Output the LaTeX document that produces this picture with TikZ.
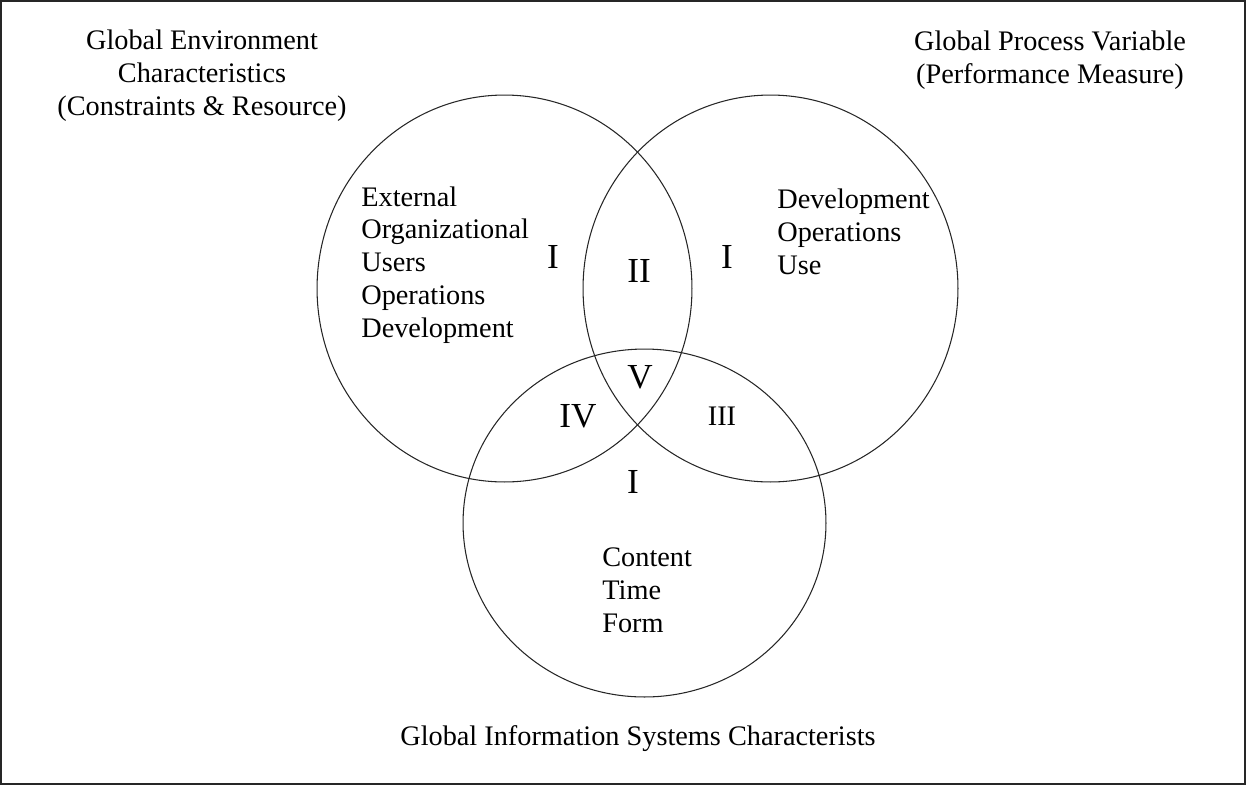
\documentclass[tikz,border=0pt]{standalone}
\usepackage{fontspec}
\setmainfont{Liberation Serif}
\usepackage{tikz}
\tikzset{
    setline/.style={draw=black!85, line width=0.6pt},
    frame/.style={draw=black!85, line width=0.9pt},
    caption/.style={font=\fontsize{16.1}{18.6}\selectfont, inner sep=0pt, align=center, anchor=base},
    itemlist/.style={font=\fontsize{16.1}{18.6}\selectfont, inner sep=0pt, align=left, anchor=base west},
    region/.style={font=\fontsize{20}{24}\selectfont, inner sep=0pt, anchor=base},
    smallregion/.style={font=\fontsize{16.1}{18.6}\selectfont, inner sep=0pt, anchor=base}
}

\begin{document}
\begin{tikzpicture}[x=0.02cm, y=-0.02cm]
    \useasboundingbox (0,0) rectangle (1246,785);
    \draw[frame] (1,1) rectangle (1245,784);

    % the three sets
    \draw[setline] (504.5,288.5) ellipse [x radius=3.75cm, y radius=3.87cm];
    \draw[setline] (770.5,288.5) ellipse [x radius=3.75cm, y radius=3.87cm];
    \draw[setline] (644.5,523) ellipse [x radius=3.63cm, y radius=3.48cm];

    % outer captions (placed at the baseline of their last line)
    \node[caption] (envcap) at (202,115) {Global Environment\\Characteristics\\(Constraints \& Resource)};
    \node[caption] (proccap) at (1050,83) {Global Process Variable\\(Performance Measure)};
    \node[caption] (infocap) at (638,745) {Global Information Systems Characterists};

    % contents of each set
    \node[itemlist] (envlist) at (361,337) {External\\Organizational\\Users\\Operations\\Development};
    \node[itemlist] (proclist) at (777,274) {Development\\Operations\\Use};
    \node[itemlist] (infolist) at (602,632) {Content\\Time\\Form};

    % region numbers
    \node[region] (envone) at (553,268) {I};
    \node[region] (procone) at (727,268) {I};
    \node[region] (infoone) at (633,493) {I};
    \node[region] (two) at (639,282) {II};
    \node[smallregion] (three) at (722,425) {III};
    \node[region] (four) at (578,427) {IV};
    \node[region] (five) at (640,388) {V};
\end{tikzpicture}
\end{document}
